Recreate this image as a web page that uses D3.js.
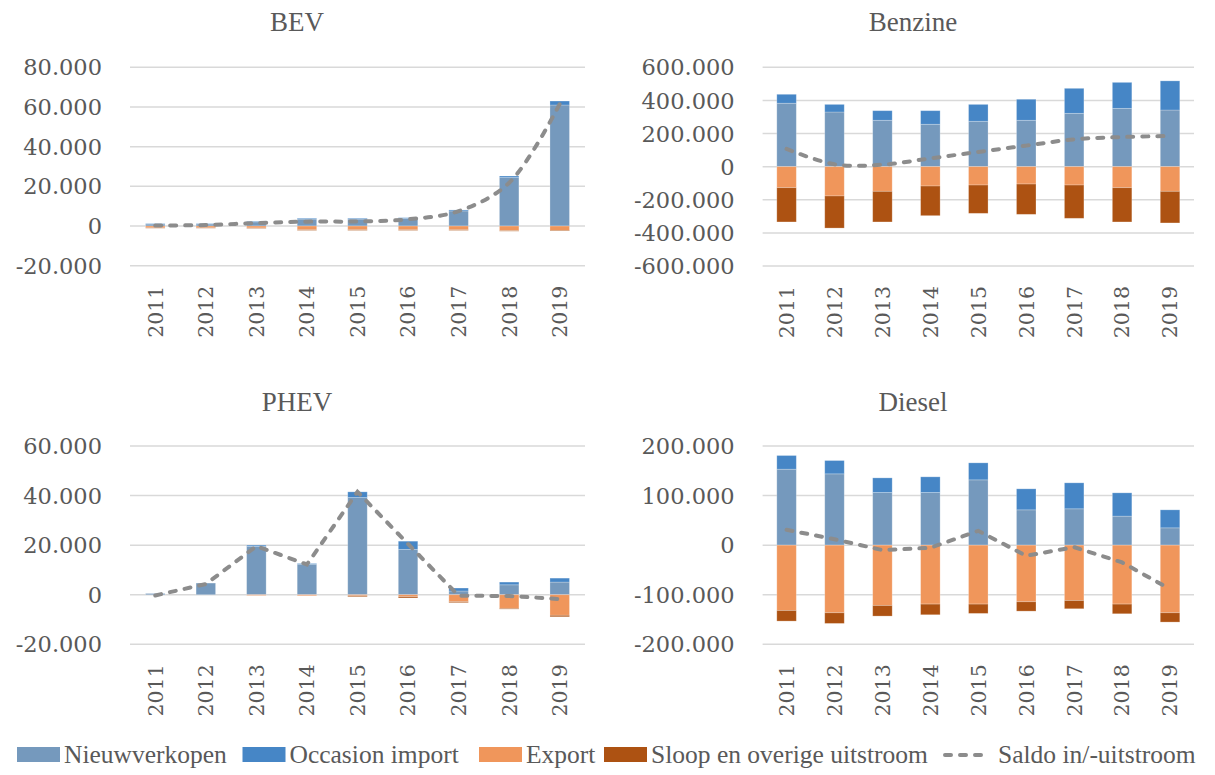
<!DOCTYPE html>
<html>
<head>
<meta charset="utf-8">
<title>In- en uitstroom per brandstof</title>
<style>
  body { margin: 0; background: #fff; }
  text { fill: #595959; }
  .title { font-family: "Liberation Serif", serif; font-size: 27px; }
  .tick { font-family: "DejaVu Serif", serif; font-size: 22.5px; }
  .year { font-family: "DejaVu Serif", serif; font-size: 20.5px; }
  .legend { font-family: "Liberation Serif", serif; font-size: 25.5px; }
</style>
</head>
<body>
<script src="https://cdn.jsdelivr.net/npm/d3@7"></script>
<script>

// categories
var years = ["2011", "2012", "2013", "2014", "2015", "2016", "2017", "2018", "2019"];

// BEV
var bevNieuw    = [1000, 1000, 2100, 3500, 3500, 3800, 7600, 24400, 61000];
var bevOccasion = [200, 200, 300, 400, 400, 400, 500, 800, 2000];
var bevExport   = [-900, -900, -1000, -1900, -1900, -1900, -1900, -2300, -2200];
var bevSloop    = [-200, -200, -200, -300, -300, -300, -300, -300, -300];
var bevSaldo    = [200, 500, 1500, 2200, 2300, 3400, 7500, 21800, 61500];

// Benzine
var benNieuw    = [383000, 330000, 280000, 256000, 274000, 280000, 322000, 352000, 342000];
var benOccasion = [54000, 46000, 58000, 82000, 102000, 127000, 151000, 157000, 176000];
var benExport   = [-127000, -177000, -149000, -117000, -111000, -105000, -111000, -127000, -149000];
var benSloop    = [-207000, -194000, -185000, -179000, -171000, -183000, -201000, -207000, -191000];
var benSaldo    = [107000, 14000, 12000, 50000, 89000, 127000, 165000, 179000, 185000];

// PHEV
var phevNieuw    = [500, 4700, 19500, 12300, 39200, 18300, 1500, 4000, 5100];
var phevOccasion = [0, 0, 500, 300, 2300, 3300, 1200, 1100, 1600];
var phevExport   = [0, 0, -300, -400, -400, -800, -2800, -5500, -8300];
var phevSloop    = [0, 0, 0, 0, -400, -500, -400, -300, -600];
var phevSaldo    = [-300, 4300, 19600, 12200, 41500, 20500, -400, -500, -1750];

// Diesel
var dieNieuw    = [153200, 143800, 106200, 106200, 131700, 71200, 73300, 58500, 34900];
var dieOccasion = [27600, 26900, 29500, 31600, 34300, 42400, 52400, 47000, 36300];
var dieExport   = [-131700, -136400, -121600, -118900, -118900, -114200, -111600, -118900, -136400];
var dieSloop    = [-21500, -21500, -21500, -21500, -18800, -18900, -16700, -19500, -18800];
var dieSaldo    = [31000, 12000, -10000, -5400, 28900, -21500, -4000, -34900, -88700];

// legend
var seriesNames = ["Nieuwverkopen", "Occasion import", "Export", "Sloop en overige uitstroom"];
var lineName = "Saldo in/-uitstroom";
var seriesColors = ["#7599bd", "#4686c6", "#f0965b", "#ad5212"];

var keys = ["nieuw", "occasion", "export", "sloop"];

var nl = d3.formatLocale({ decimal: ",", thousands: ".", grouping: [3], currency: ["", ""], minus: "-" });
var fmt = nl.format(",.0f");

var svg = d3.select("body").append("svg")
    .attr("width", 1215)
    .attr("height", 775);

function table(nieuw, occasion, exp, sloop) {
  return years.map(function(y, i) {
    return { year: y, nieuw: nieuw[i], occasion: occasion[i], export: exp[i], sloop: sloop[i] };
  });
}

function panel(p) {
  var x = d3.scaleBand().domain(years).range([p.x0, p.x1]);
  var y = d3.scaleLinear().domain(p.domain).range([p.yBot, p.yTop]);
  var g = svg.append("g");

  // title
  g.append("text")
    .attr("class", "title")
    .attr("x", p.titleX)
    .attr("y", p.titleY)
    .attr("text-anchor", "middle")
    .text(p.title);

  // gridlines and tick labels
  var ticks = d3.range(p.domain[0], p.domain[1] + p.step / 2, p.step);
  g.selectAll(".grid").data(ticks).enter().append("line")
    .attr("x1", p.x0).attr("x2", p.x1)
    .attr("y1", function(d) { return y(d); })
    .attr("y2", function(d) { return y(d); })
    .attr("stroke", "#d9d9d9")
    .attr("stroke-width", 1.5);

  g.selectAll(".tick").data(ticks).enter().append("text")
    .attr("class", "tick")
    .attr("x", p.x0 - 28)
    .attr("y", function(d) { return y(d); })
    .attr("dy", "0.36em")
    .attr("text-anchor", "end")
    .text(function(d) { return fmt(d); });

  // stacked bars
  var data = table(p.nieuw, p.occasion, p.exp, p.sloop);
  var stacked = d3.stack().keys(keys).offset(d3.stackOffsetDiverging)(data);
  var bw = 19.5;

  g.selectAll(".layer").data(stacked).enter().append("g")
    .attr("fill", function(d, i) { return seriesColors[i]; })
    .selectAll("rect").data(function(d) { return d; }).enter().append("rect")
      .attr("x", function(d) { return x(d.data.year) + x.bandwidth() / 2 - bw / 2; })
      .attr("width", bw)
      .attr("y", function(d) { return y(Math.max(d[0], d[1])); })
      .attr("height", function(d) { return Math.abs(y(d[0]) - y(d[1])); })
      .attr("stroke", "#ffffff")
      .attr("stroke-opacity", 0.3)
      .attr("stroke-width", 0.8);

  // saldo line
  var line = d3.line()
    .x(function(d, i) { return x(years[i]) + x.bandwidth() / 2; })
    .y(function(d) { return y(d); })
    .curve(p.smooth ? d3.curveCatmullRom.alpha(0.5) : d3.curveLinear);

  g.append("path")
    .datum(p.saldo)
    .attr("d", line)
    .attr("fill", "none")
    .attr("stroke", "#8c8c8c")
    .attr("stroke-width", 4)
    .attr("stroke-linecap", "round")
    .attr("stroke-dasharray", "6 9");

  // year labels
  g.selectAll(".year").data(years).enter().append("text")
    .attr("class", "year")
    .attr("transform", function(d) {
      return "translate(" + (x(d) + x.bandwidth() / 2) + "," + (p.yBot + 20) + ") rotate(-90)";
    })
    .attr("dy", "0.36em")
    .attr("text-anchor", "end")
    .text(function(d) { return d; });
}

panel({ title: "BEV", titleX: 297, titleY: 31, x0: 130, x1: 585, yTop: 67.3, yBot: 265.7,
        domain: [-20000, 80000], step: 20000, smooth: true,
        nieuw: bevNieuw, occasion: bevOccasion, exp: bevExport, sloop: bevSloop, saldo: bevSaldo });

panel({ title: "Benzine", titleX: 913, titleY: 31, x0: 762.6, x1: 1194, yTop: 67.3, yBot: 266,
        domain: [-600000, 600000], step: 200000, smooth: true,
        nieuw: benNieuw, occasion: benOccasion, exp: benExport, sloop: benSloop, saldo: benSaldo });

panel({ title: "PHEV", titleX: 297, titleY: 411, x0: 130, x1: 585, yTop: 446, yBot: 644.3,
        domain: [-20000, 60000], step: 20000, smooth: false,
        nieuw: phevNieuw, occasion: phevOccasion, exp: phevExport, sloop: phevSloop, saldo: phevSaldo });

panel({ title: "Diesel", titleX: 913, titleY: 411, x0: 762.6, x1: 1194, yTop: 446, yBot: 644.3,
        domain: [-200000, 200000], step: 100000, smooth: false,
        nieuw: dieNieuw, occasion: dieOccasion, exp: dieExport, sloop: dieSloop, saldo: dieSaldo });

// legend
var legendX = [17, 242.5, 479, 604];
var leg = svg.append("g");
seriesNames.forEach(function(name, i) {
  leg.append("rect")
    .attr("x", legendX[i]).attr("y", 747)
    .attr("width", 43).attr("height", 15)
    .attr("fill", seriesColors[i]);
  leg.append("text")
    .attr("class", "legend")
    .attr("x", legendX[i] + 47).attr("y", 763)
    .text(name);
});
leg.append("line")
  .attr("x1", 945).attr("x2", 984)
  .attr("y1", 755).attr("y2", 755)
  .attr("stroke", "#8c8c8c")
  .attr("stroke-width", 4)
  .attr("stroke-linecap", "round")
  .attr("stroke-dasharray", "6 9");
leg.append("text")
  .attr("class", "legend")
  .attr("x", 998).attr("y", 763)
  .text(lineName);

</script>
</body>
</html>
